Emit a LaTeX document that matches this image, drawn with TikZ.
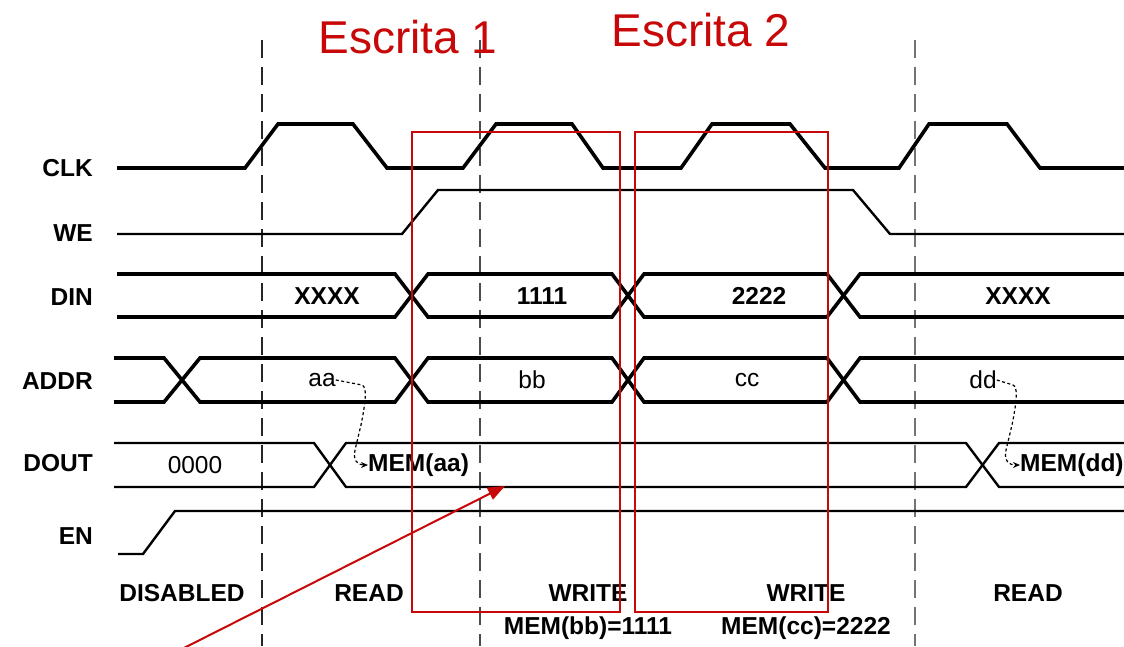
\documentclass[tikz,border=0pt]{standalone}
\usepackage{fontspec}
\setmainfont{Liberation Sans}
\usetikzlibrary{arrows.meta}
\definecolor{hl}{RGB}{200,8,8}
\begin{document}
\begin{tikzpicture}[x=1pt,y=-1pt,
 sig/.style={font=\fontsize{24.5}{28}\selectfont\bfseries, anchor=east, inner sep=0pt},
 val/.style={font=\fontsize{24.5}{28}\selectfont\bfseries, inner sep=0pt},
 vall/.style={font=\fontsize{24.5}{28}\selectfont, inner sep=0pt},
 thickwave/.style={line width=3.6pt},
 thinwave/.style={line width=2.4pt},
 guide/.style={dash pattern=on 18pt off 9pt, line width=1.8pt},
 hlbox/.style={draw=hl, line width=1.8pt},
 hltext/.style={text=hl, font=\fontsize{46}{50}\selectfont, inner sep=0pt},
 conn/.style={dash pattern=on 3pt off 2.5pt, line width=1.2pt, -{Stealth[length=7pt,width=6pt]}},
 hlarrow/.style={draw=hl, line width=2pt, -{Triangle[length=17pt,width=13pt]}}]
\useasboundingbox (0,0) rectangle (1124,646);
\fill[white] (0,0) rectangle (1124,646);

% guide lines
\draw[guide, black!85] (262,40) -- (262,646);
\draw[guide, black!70] (480,40) -- (480,646);
\draw[guide, black!55] (915,40) -- (915,646);

% signal names
\node[sig] (nclk)  at (93,168) {CLK};
\node[sig] (nwe)   at (93,233) {WE};
\node[sig] (ndin)  at (93,297) {DIN};
\node[sig] (naddr) at (93,381) {ADDR};
\node[sig] (ndout) at (93,463) {DOUT};
\node[sig] (nen)   at (93,536) {EN};

% CLK
\draw[thickwave] (117,168) -- (245,168) -- (278,124) -- (353,124) -- (387,168)
  -- (463,168) -- (496,124) -- (572,124) -- (603,168)
  -- (681,168) -- (712,124) -- (790,124) -- (825,168)
  -- (899,168) -- (929,124) -- (1007,124) -- (1040,168) -- (1124,168);
% WE
\draw[thinwave] (117,234) -- (402,234) -- (438,190) -- (853,190) -- (890,234) -- (1124,234);
% DIN
\draw[thickwave] (117,274) -- (395,274) -- (428,317) -- (612,317) -- (644,274) -- (827,274) -- (860,317) -- (1124,317);
\draw[thickwave] (117,317) -- (395,317) -- (428,274) -- (612,274) -- (644,317) -- (827,317) -- (860,274) -- (1124,274);
% ADDR
\draw[thickwave] (114,358) -- (164,358) -- (200,402) -- (395,402) -- (428,358) -- (612,358) -- (644,402) -- (827,402) -- (860,358) -- (1124,358);
\draw[thickwave] (114,402) -- (164,402) -- (200,358) -- (395,358) -- (428,402) -- (612,402) -- (644,358) -- (827,358) -- (860,402) -- (1124,402);
% DOUT
\draw[thinwave] (114,443) -- (314,443) -- (346,487) -- (966,487) -- (999,443) -- (1124,443);
\draw[thinwave] (114,487) -- (314,487) -- (346,443) -- (966,443) -- (999,487) -- (1124,487);
% EN
\draw[thinwave] (118,554) -- (143,554) -- (175,511) -- (1124,511);

% values
\node[val] (x1) at (327,296) {XXXX};
\node[val] (v1) at (542,296) {1111};
\node[val] (v2) at (759,296) {2222};
\node[val] (x2) at (1018,296) {XXXX};
\node[vall] (aa) at (322,380) {aa};
\node[vall] (bb) at (532,380) {bb};
\node[vall] (cc) at (747,380) {cc};
\node[vall] (dd) at (983,380) {dd};
\node[vall] (z0) at (195,465) {0000};
\node[val, anchor=west] (memaa) at (368,465) {MEM(aa)};
\node[val, anchor=west] (memdd) at (1020,465) {MEM(dd)};

\draw[conn] (aa.east) -- (362,385) .. controls (367,387) and (366,400) .. (361,425)
  -- (355,450) .. controls (353,460) and (357,465) .. (memaa.west);
\draw[conn] (dd.east) -- (1013,385) .. controls (1018,387) and (1017,400) .. (1012,425)
  -- (1006,450) .. controls (1004,460) and (1008,465) .. (memdd.west);

% phase labels
\node[val] (pdis) at (182,593) {DISABLED};
\node[val] (pr1)  at (369,593) {READ};
\node[val] (pw1)  at (588,593) {WRITE};
\node[val] (pw2)  at (806,593) {WRITE};
\node[val] (pr2)  at (1028,593) {READ};
\node[val] (mbb)  at (588,628) {MEM(bb)=1111};
\node[val] (mcc)  at (806,628) {MEM(cc)=2222};

% highlights
\draw[hlbox] (412,132) rectangle (620,612);
\draw[hlbox] (635,132) rectangle (828,612);
\node[hltext] (e1) at (408,37) {Escrita 1};
\node[hltext] (e2) at (701,30) {Escrita 2};
\coordinate (rs) at (176,652);
\coordinate (rt) at (505,486);
\draw[hlarrow] (rs) -- (rt);
\end{tikzpicture}
\end{document}
